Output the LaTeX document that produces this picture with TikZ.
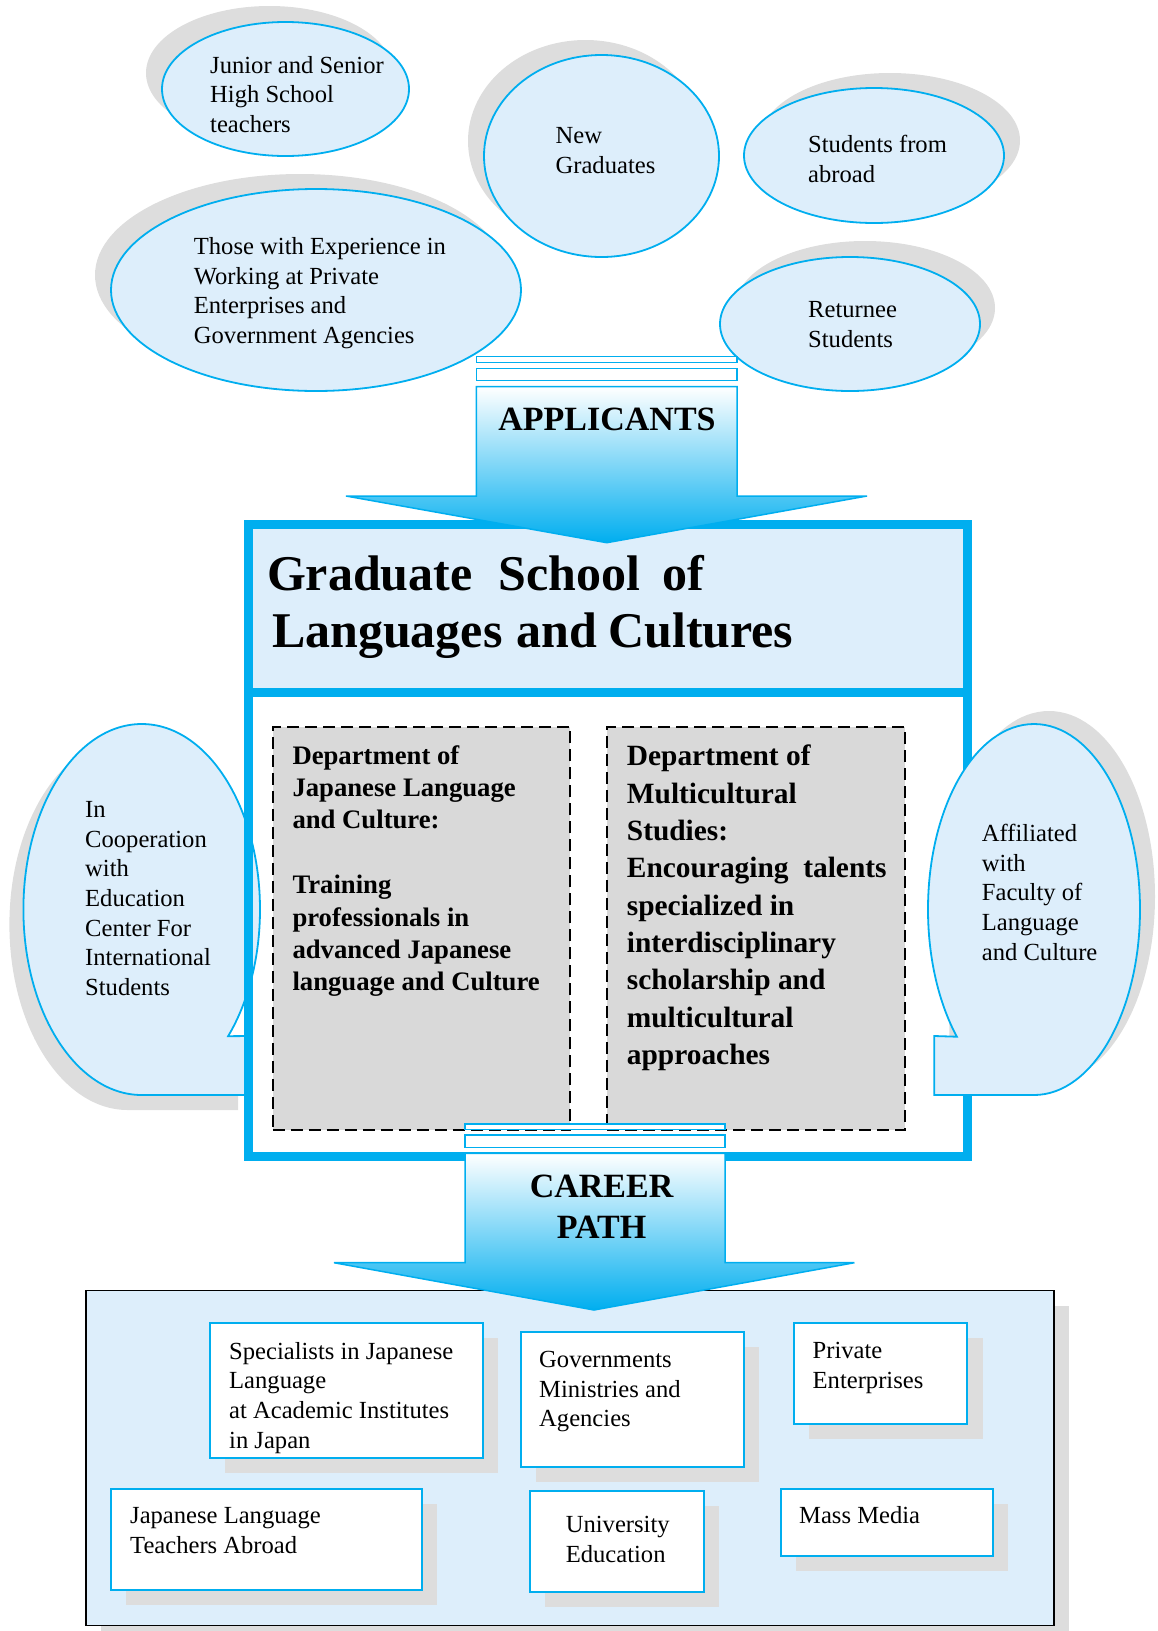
\documentclass[tikz,border=0pt]{standalone}
\usepackage{fontspec}
\setmainfont{Liberation Serif}
\usetikzlibrary{shapes.geometric}
\definecolor{cy}{RGB}{0,174,239}
\definecolor{lb}{RGB}{221,238,251}
\definecolor{sh}{RGB}{221,221,221}
\definecolor{dg}{RGB}{217,217,217}
\begin{document}
\begin{tikzpicture}[x=1pt,y=-1pt,
 txt/.style={anchor=north west,inner sep=0pt,align=left,font=\fontsize{24.6}{29.7}\selectfont},
 oval/.style={ellipse,draw=cy,fill=lb,line width=1.8pt,inner sep=0pt,outer sep=0pt},
 cbox/.style={rectangle,draw=cy,fill=white,line width=2pt,inner sep=0pt},
 bar/.style={draw=cy,fill=white,line width=1.5pt},
 bigarrow/.style={draw=cy,line width=1.5pt,top color=white,bottom color=cy},
 dept/.style={rectangle,draw=black,fill=dg,line width=1.8pt,dash pattern=on 12pt off 6pt,inner sep=0pt},
 depttxt/.style={anchor=north west,inner sep=0pt,align=left},
 title/.style={font=\bfseries\fontsize{34}{40}\selectfont,align=center,inner sep=0pt}
]
\useasboundingbox (0,0) rectangle (1157,1631);

% applicant ellipses
\fill[sh] (269.5,73) ellipse [x radius=123.5,y radius=67];
\node[oval,minimum width=247pt,minimum height=134pt] (junior) at (285.5,89) {};
\fill[sh] (585.5,141) ellipse [x radius=117.5,y radius=101];
\node[oval,minimum width=235pt,minimum height=202pt] (newgrad) at (601.5,156) {};
\fill[sh] (890,140.5) ellipse [x radius=130,y radius=67.5];
\node[oval,minimum width=260pt,minimum height=135pt] (abroad) at (874,155.5) {};
\fill[sh] (300,275) ellipse [x radius=205,y radius=101];
\node[oval,minimum width=410pt,minimum height=202pt] (experience) at (316,290) {};
\fill[sh] (865,308) ellipse [x radius=130,y radius=67];
\node[oval,minimum width=260pt,minimum height=134pt] (returnee) at (850,324) {};

% frame fills
\fill[white] (248,692.5) rectangle (967,1156);
\fill[lb] (248,524.5) rectangle (967,692.5);
\node[dept,minimum width=297.3pt,minimum height=403.3pt] (dleft) at (421.35,928.35) {};
\node[dept,minimum width=297.7pt,minimum height=403.3pt] (dright) at (756.15,928.35) {};

% left bubble
\fill[sh] (127.7,1110) arc[start angle=90,end angle=403.07,x radius=118.3,y radius=185.5] -- (238,1051) -- (238,1110) -- cycle;
\draw[draw=cy,fill=lb,line width=1.8pt] (141.7,1095) arc[start angle=90,end angle=403.07,x radius=118.3,y radius=185.5] -- (252,1036) -- (252,1095) -- cycle;

% frame lines
\draw[cy,line width=9pt] (248,524.5) rectangle (967,1156);
\draw[cy,line width=9pt] (248,692.5) -- (967,692.5);

% right bubble
\fill[sh] (1049,1082) arc[start angle=90,end angle=-223.3,x radius=106,y radius=185.5] -- (949.3,1023) -- (949.3,1082) -- cycle;
\draw[draw=cy,fill=lb,line width=1.8pt] (1034,1095) arc[start angle=90,end angle=-223.3,x radius=106,y radius=185.5] -- (934.3,1036) -- (934.3,1095) -- cycle;

% applicants arrow
\draw[bar] (476.4,356.7) rectangle (737,362.7);
\draw[bar] (476.4,368.3) rectangle (737,380.7);
\draw[bigarrow] (476.4,386.7) -- (737,386.7) -- (737,496) -- (867,496) -- (606.8,542.7) -- (346,496) -- (476.4,496) -- cycle;

% careers box
\fill[sh] (101,1305.5) rectangle (1069,1640.7);
\node[draw=black,fill=lb,line width=1.5pt,minimum width=968pt,minimum height=335.2pt,inner sep=0pt] (careers) at (570,1458.1) {};

\fill[sh] (225,1338) rectangle (498,1473);
\node[cbox,minimum width=273pt,minimum height=135pt] (c1) at (346.5,1390.5) {};
\fill[sh] (535.6,1347) rectangle (758.75,1481.7);
\node[cbox,minimum width=223.15pt,minimum height=134.7pt] (c2) at (632.2,1399.35) {};
\fill[sh] (808.75,1338) rectangle (982.5,1439);
\node[cbox,minimum width=173.75pt,minimum height=101pt] (c3) at (880.6,1373.5) {};
\fill[sh] (126,1504) rectangle (437,1605);
\node[cbox,minimum width=311pt,minimum height=101pt] (c4) at (266.5,1539.5) {};
\fill[sh] (545,1505.7) rectangle (719,1606.7);
\node[cbox,minimum width=174pt,minimum height=101pt] (c5) at (617,1541.2) {};
\fill[sh] (796,1504) rectangle (1007.5,1571);
\node[cbox,minimum width=211.5pt,minimum height=67pt] (c6) at (886.75,1522.5) {};

% career arrow
\draw[bar] (465,1124) rectangle (725,1129.3);
\draw[bar] (465,1135) rectangle (725,1147.3);
\draw[bigarrow] (465,1153.3) -- (725,1153.3) -- (725,1262.7) -- (854.4,1262.7) -- (594,1310) -- (334,1262.7) -- (465,1262.7) -- cycle;

% texts
\node[txt] (tjunior) at (210,56) {Junior and Senior\\High School\\teachers};
\node[txt] (tnewgrad) at (555.4,127) {New\\Graduates};
\node[txt] (tabroad) at (808,135) {Students from\\abroad};
\node[txt,font=\fontsize{24.6}{29.4}\selectfont] (texperience) at (193.7,237.7) {Those with Experience in\\Working at Private\\Enterprises and\\Government Agencies};
\node[txt] (treturnee) at (808,301) {Returnee\\Students};
\node[txt] (tleft) at (85,801) {In\\Cooperation\\with\\Education\\Center For\\International\\Students};
\node[txt] (tright) at (981.7,824) {Affiliated\\with\\Faculty of\\Language\\and Culture};

\node[anchor=north west,inner sep=0pt,align=left,font=\bfseries\fontsize{50}{56.7}\selectfont] (gtitle) at (266.8,555) {Graduate\hspace{26pt}School\hspace{22pt}of\\\hspace*{5pt}Languages\hspace{14pt}and\hspace{11pt}Cultures};

\node[depttxt,font=\bfseries\fontsize{26.7}{32.4}\selectfont] (tdleft) at (292.3,745) {Department of\\Japanese Language\\and Culture:\\[32.4pt]Training\\professionals in\\advanced Japanese\\language and Culture};
\node[depttxt,font=\bfseries\fontsize{29.4}{37.3}\selectfont] (tdright) at (626.7,745) {Department of\\Multicultural\\Studies:\\Encouraging\ \ talents\\specialized in\\interdisciplinary\\scholarship and\\multicultural\\approaches};

\node[title] (applicants) at (607,419) {APPLICANTS};
\node[title,font=\bfseries\fontsize{34}{41}\selectfont] (career) at (601.6,1207) {CAREER\\PATH};

\node[txt] (tc1) at (229,1342) {Specialists in Japanese\\Language\\at Academic Institutes\\in Japan};
\node[txt] (tc2) at (539,1351) {Governments\\Ministries and\\Agencies};
\node[txt] (tc3) at (812.5,1342) {Private\\Enterprises};
\node[txt] (tc4) at (130,1507) {Japanese Language\\Teachers Abroad};
\node[txt] (tc5) at (565.6,1516) {University\\Education};
\node[txt] (tc6) at (799,1506) {Mass Media};
\end{tikzpicture}
\end{document}
